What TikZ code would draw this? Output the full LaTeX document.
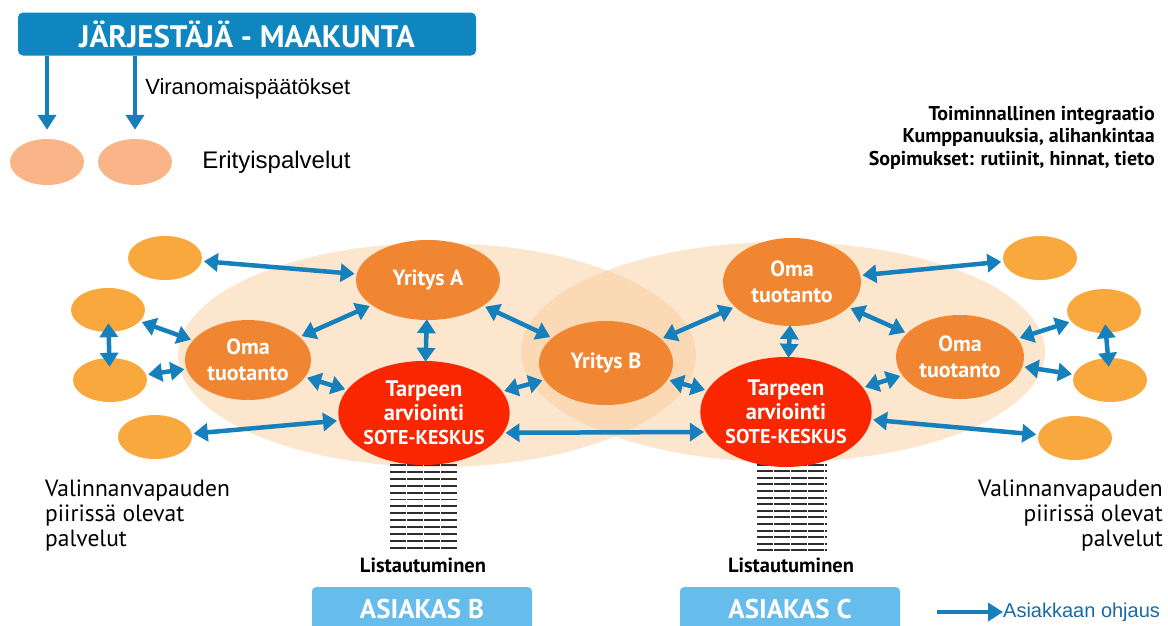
\documentclass[tikz,border=0pt]{standalone}
\usepackage{fontspec}
\setmainfont{PT Sans}
\newfontfamily\arialfont{Liberation Sans}
\usetikzlibrary{shapes.geometric,arrows.meta,positioning}
\definecolor{titleblue}{RGB}{16,134,192}
\definecolor{asiakasblue}{RGB}{102,189,235}
\definecolor{arrowblue}{RGB}{22,128,188}
\definecolor{nodeorange}{RGB}{240,134,50}
\definecolor{sotered}{RGB}{250,38,0}
\definecolor{outerorange}{RGB}{249,168,62}
\definecolor{erityis}{RGB}{249,180,135}
\definecolor{bgpeach}{RGB}{249,205,155}
\definecolor{legendtext}{RGB}{25,105,165}

\begin{document}
\begin{tikzpicture}[x=1pt,y=-1pt,
    ohjaus/.style={draw=arrowblue,line width=4.5pt,{Triangle[length=14pt,width=18pt]}-{Triangle[length=14pt,width=18pt]},shorten <=2pt,shorten >=2pt},
    ohjausone/.style={draw=arrowblue,line width=4.5pt,-{Triangle[length=15pt,width=18pt]}},
    toimija/.style={ellipse,fill=nodeorange,text=white,inner sep=0pt,align=center,font=\fontsize{22}{26}\selectfont\bfseries},
    sote/.style={ellipse,fill=sotered,text=white,inner sep=0pt,align=center,font=\fontsize{22.5}{24}\selectfont\bfseries},
    palvelu/.style={ellipse,fill=outerorange,minimum width=74pt,minimum height=44pt,inner sep=0pt},
    erityinen/.style={ellipse,fill=erityis,minimum width=74pt,minimum height=46pt,inner sep=0pt},
    asiakas/.style={fill=asiakasblue,rounded corners=4pt,minimum width=220pt,minimum height=44pt,text=white,font=\fontsize{27}{30}\selectfont\bfseries},
    listline/.style={draw=black!82,line width=1.9pt,dash pattern=on 16pt off 1pt}]
  \clip (0,0) rectangle (1168,625);

  % taustat
  \fill[bgpeach,opacity=0.5] (437,355) ellipse [x radius=259,y radius=112];
  \fill[bgpeach,opacity=0.5] (783,352) ellipse [x radius=262,y radius=110];

  % listat
  \foreach \i in {0,...,12}
    \draw[listline] (390,465+\i*6.9) -- (458,465+\i*6.9);
  \foreach \i in {0,...,14}
    \draw[listline] (757,458+\i*6.6) -- (827,458+\i*6.6);

  % maakunta
  \node (title) [fill=titleblue,rounded corners=5pt,minimum width=458pt,minimum height=43pt,text=white,font=\fontsize{31}{34}\selectfont\bfseries] at (247,34) {JÄRJESTÄJÄ - MAAKUNTA};
  \node (e1) [erityinen] at (47,162) {};
  \node (e2) [erityinen] at (135,162) {};
  \node (erit) [right=30pt of e2,font=\arialfont\fontsize{24}{28}\selectfont,inner sep=0pt] {Erityispalvelut};
  \draw[ohjausone,shorten >=9pt] (title.south -| e1) -- (e1);
  \draw[ohjausone,shorten >=9pt] (title.south -| e2) -- (e2) node (vira) [pos=0.4,right=8pt,inner sep=0pt,font=\arialfont\fontsize{22}{26}\selectfont] {Viranomaispäätökset};

  \node (integr) [anchor=north east,align=right,inner sep=0pt,font=\fontsize{20}{22.5}\selectfont\bfseries] at (1155,106)
    {Toiminnallinen integraatio\\Kumppanuuksia, alihankintaa\\Sopimukset: rutiinit, hinnat, tieto};

  % toimijat
  \node (yA) [toimija,minimum width=144pt,minimum height=80pt] at (428,280) {Yritys A};
  \node (omaL) [toimija,minimum width=126pt,minimum height=80pt] at (248,360) {Oma\\tuotanto};
  \node (tarL) [sote,minimum width=166pt,minimum height=104pt] at (424,413) {Tarpeen\\arviointi\\{\fontsize{20}{24}\selectfont SOTE-KESKUS}};
  \node (yB) [toimija,minimum width=134pt,minimum height=84pt] at (606,363) {Yritys B};
  \node (omaT) [toimija,minimum width=138pt,minimum height=88pt] at (792,282) {Oma\\tuotanto};
  \node (tarR) [sote,minimum width=150pt,minimum height=110pt] at (786,412) {Tarpeen\\arviointi\\{\fontsize{20}{24}\selectfont SOTE-KESKUS}};
  \node (omaR) [toimija,minimum width=128pt,minimum height=84pt] at (960,357) {Oma\\tuotanto};

  % valinnanvapauden palvelut
  \node (l1) [palvelu] at (165,258) {};
  \node (l2) [palvelu] at (108,310) {};
  \node (l3) [palvelu] at (110,380) {};
  \node (l4) [palvelu] at (155,437) {};
  \node (r1) [palvelu] at (1040,258) {};
  \node (r2) [palvelu] at (1104,311) {};
  \node (r3) [palvelu] at (1110,380) {};
  \node (r4) [palvelu] at (1075,438) {};

  \draw[ohjaus] (l1) -- (yA);
  \draw[ohjaus] (l2) -- (omaL);
  \draw[ohjaus,shorten <=-9pt,shorten >=-9pt] (l2) -- (l3);
  \draw[ohjaus] (l3) -- (omaL);
  \draw[ohjaus] (l4) -- (tarL);
  \draw[ohjaus] (omaL) -- (yA);
  \draw[ohjaus,shorten <=-1pt,shorten >=-1pt] (yA) -- (tarL);
  \draw[ohjaus] (omaL) -- (tarL);
  \draw[ohjaus] (yA) -- (yB);
  \draw[ohjaus] (tarL) -- (yB);
  \draw[ohjaus] (tarL.-14) -- (tarR.194);
  \draw[ohjaus] (yB) -- (omaT);
  \draw[ohjaus] (yB) -- (tarR);
  \draw[ohjaus,shorten <=-1pt,shorten >=-1pt] (omaT) -- (tarR);
  \draw[ohjaus] (omaT) -- (omaR);
  \draw[ohjaus] (omaR) -- (tarR);
  \draw[ohjaus] (tarR) -- (r4);
  \draw[ohjaus] (omaT) -- (r1);
  \draw[ohjaus] (omaR) -- (r2);
  \draw[ohjaus,shorten <=-9pt,shorten >=-9pt] (r2) -- (r3);
  \draw[ohjaus] (omaR) -- (r3);

  \node (valL) [anchor=north west,align=left,inner sep=0pt,font=\fontsize{23.5}{25}\selectfont] at (45,480)
    {Valinnanvapauden\\piirissä olevat\\palvelut};
  \node (valR) [anchor=north east,align=right,inner sep=0pt,font=\fontsize{23.5}{25}\selectfont] at (1163,480)
    {Valinnanvapauden\\piirissä olevat\\palvelut};

  % asiakkaat
  \node (listB) [font=\fontsize{20.5}{22}\selectfont\bfseries] at (423,565) {Listautuminen};
  \node (listC) [font=\fontsize{20.5}{22}\selectfont\bfseries] at (791,565) {Listautuminen};
  \node (asB) [asiakas,anchor=north] at (422,587) {ASIAKAS B};
  \node (asC) [asiakas,anchor=north] at (790,587) {ASIAKAS C};

  % selite
  \coordinate (legA) at (937,612);
  \node (legtxt) [right,inner sep=0pt,text=legendtext,font=\arialfont\fontsize{20}{24}\selectfont] at (1003,612) {Asiakkaan ohjaus};
  \draw[ohjausone] (legA) -- (legtxt.west);
\end{tikzpicture}
\end{document}
